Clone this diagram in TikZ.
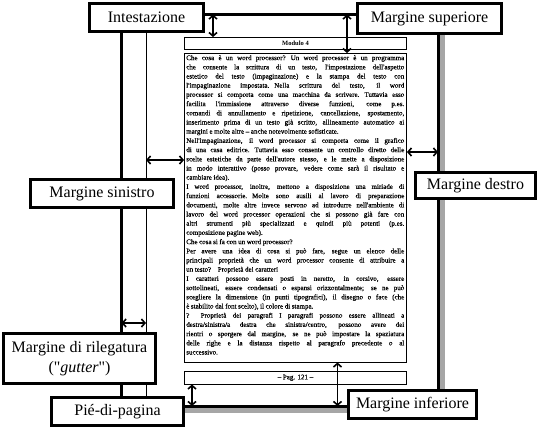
\documentclass[tikz,border=0pt]{standalone}
\usepackage{fontspec}
\setmainfont{Liberation Serif}
\newfontfamily\bodyfont[FakeBold=0.6]{Liberation Serif}
\usetikzlibrary{arrows.meta,calc}
\newlength\bodyw
\setlength\bodyw{218pt}
\newcommand\JL[1]{\makebox[\bodyw][s]{#1}\par}
\newcommand\RL[1]{\mbox{#1}\par}
\begin{document}
\begin{tikzpicture}[x=1pt,y=-1pt,
  lbl/.style={draw, line width=3pt, fill=white, inner sep=0pt, align=center,
              font=\fontsize{16}{19.5}\selectfont},
  thinbox/.style={draw, line width=0.9pt, inner sep=0pt},
  dim/.style={{Straight Barb[length=3.5pt,width=8pt]}-{Straight Barb[length=3.5pt,width=8pt]}, line width=1.6pt},
  pagebox/.style={draw, line width=3pt, fill=white, inner sep=0pt}]
\useasboundingbox (0,0) rectangle (541,428);
% shadow and page
\fill[black!35] (126.5,19.5) rectangle (444.5,412.5);
\node[pagebox, minimum width=316.5pt, minimum height=391.5pt] (page) at (279.75,210.25) {};
\coordinate (pinnw) at ([shift={(1.5pt,-1.5pt)}]page.north west);
\coordinate (pinse) at ([shift={(-1.5pt,1.5pt)}]page.south east);
% gutter line
\coordinate (gt) at (146,0);
\draw[line width=1pt] (page.north -| gt) -- (page.south -| gt);
% header, body, footer
\node[thinbox, minimum width=222pt, minimum height=12pt] (hdr) at (295.5,43.5)
  {\fontsize{6.5}{8}\selectfont\bfseries Modulo 4};
\node[thinbox, minimum width=222pt, minimum height=308.5pt] (body) at (295.5,207.75) {};
\node[thinbox, minimum width=222pt, minimum height=12.5pt] (ftr) at (295.5,377.75)
  {\bodyfont\fontsize{7}{8}\selectfont – Pag. 121 –};
\node[anchor=north west, inner sep=0pt, text width=218pt] (txt) at ([shift={(2pt,-2pt)}]body.north west)
{\bodyfont\fontsize{7}{9.2}\selectfont\parindent=0pt\parskip=0pt
\spaceskip=1.6pt plus 1fil minus 0.4pt\relax
\JL{Che cosa è un word processor? Un word processor è un programma}
\JL{che consente la scrittura di un testo, l'impostazione dell'aspetto}
\JL{estetico del testo (impaginazione) e la stampa del testo con}
\JL{l'impaginazione impostata. Nella scrittura del testo, il word}
\JL{processor si comporta come una macchina da scrivere. Tuttavia esso}
\JL{facilita l'immissione attraverso diverse funzioni, come p.es.}
\JL{comandi di annullamento e ripetizione, cancellazione, spostamento,}
\JL{inserimento prima di un testo già scritto, allineamento automatico ai}
\RL{margini e molte altre – anche notevolmente sofisticate.}
\JL{Nell'impaginazione, il word processor si comporta come il grafico}
\JL{di una casa editrice. Tuttavia esso consente un controllo diretto delle}
\JL{scelte estetiche da parte dell'autore stesso, e le mette a disposizione}
\JL{in modo interattivo (posso provare, vedere come sarà il risultato e}
\RL{cambiare idea).}
\JL{I word processor, inoltre, mettono a disposizione una miriade di}
\JL{funzioni accessorie. Molte sono ausili al lavoro di preparazione}
\JL{documenti, molte altre invece servono ad introdurre nell'ambiente di}
\JL{lavoro del word processor operazioni che si possono già fare con}
\JL{altri strumenti più specializzati e quindi più potenti (p.es.}
\RL{composizione pagine web).}
\RL{Che cosa si fa con un word processor?}
\JL{Per avere una idea di cosa si può fare, segue un elenco delle}
\JL{principali proprietà che un word processor consente di attribuire a}
\RL{un testo? \ Proprietà dei caratteri}
\JL{I caratteri possono essere posti in neretto, in corsivo, essere}
\JL{sottolineati, essere condensati o espansi orizzontalmente; se ne può}
\JL{scegliere la dimensione (in punti tipografici), il disegno o face (che}
\RL{è stabilito dal font scelto), il colore di stampa.}
\JL{? \ Proprietà dei paragrafi I paragrafi possono essere allineati a}
\JL{destra/sinistra/a destra che sinistra/centro, possono avere dei}
\JL{rientri o sporgere dal margine, se ne può impostare la spaziatura}
\JL{delle righe e la distanza rispetto al paragrafo precedente o al}
\RL{successivo.}
};
% dimension arrows
\coordinate (xh) at (213,0);
\coordinate (xs) at (347,0);
\coordinate (xf) at (192,0);
\coordinate (xb) at (337.5,0);
\coordinate (yr) at (0,152);
\coordinate (yl) at (0,160);
\coordinate (yg) at (0,323);
\draw[dim] (pinnw -| xh) -- (hdr.north -| xh);
\draw[dim] (pinnw -| xs) -- (body.north -| xs);
\draw[dim] (body.east |- yr) -- (pinse |- yr);
\draw[dim] (gt |- yl) -- (body.west |- yl);
\draw[dim] (pinnw |- yg) -- (gt |- yg);
\draw[dim] (ftr.south -| xf) -- (pinse -| xf);
\draw[dim] (body.south -| xb) -- (pinse -| xb);
% labels
\node[lbl, minimum width=114pt, minimum height=28pt] (lint) at (146.5,17.5) {Intestazione};
\node[lbl, minimum width=144pt, minimum height=30pt] (lsup) at (429.5,18.5) {Margine superiore};
\node[lbl, minimum width=143pt, minimum height=28pt] (lsin) at (102,193.5) {Margine sinistro};
\node[lbl, minimum width=120pt, minimum height=26pt] (ldes) at (475.5,185.5) {Margine destro};
\node[lbl, minimum width=152pt, minimum height=50pt] (lril) at (79.5,358.5) {Margine di rilegatura\\(\textquotedbl\textit{gutter}\textquotedbl)};
\node[lbl, minimum width=132pt, minimum height=28pt] (lpie) at (117.5,411.5) {Pié-di-pagina};
\node[lbl, minimum width=128pt, minimum height=28pt] (linf) at (412.5,404.5) {Margine inferiore};
\end{tikzpicture}
\end{document}
